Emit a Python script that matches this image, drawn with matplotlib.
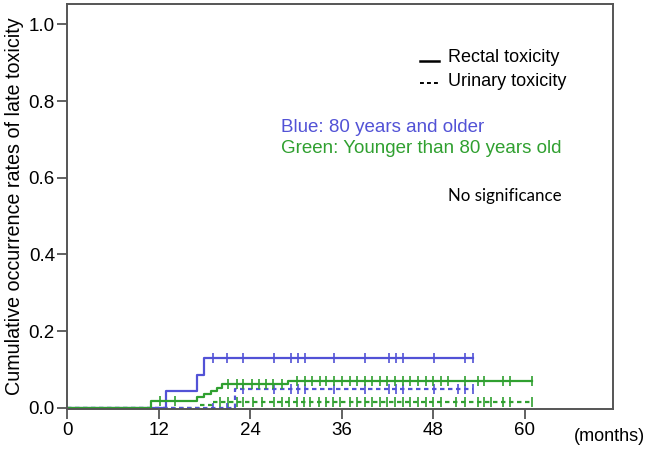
import matplotlib.pyplot as plt
from matplotlib.lines import Line2D

# Kaplan-Meier style cumulative incidence
blue_rectal_time = [0, 13.0, 17.0, 17.9, 53.2]
blue_rectal_rate = [0, 0.043, 0.087, 0.130, 0.130]
blue_rectal_censor = [19.1, 20.9, 23.0, 27.1, 29.3, 30.2, 31.2, 35.0, 39.1,
                      42.2, 43.1, 44.1, 48.1, 52.2, 53.2]

blue_urinary_time = [0, 22.0, 53.2]
blue_urinary_rate = [0, 0.048, 0.048]
blue_urinary_censor = [19.1, 20.9, 23.0, 27.1, 29.3, 30.2, 31.2, 35.0, 39.1,
                       42.2, 43.1, 44.1, 48.1, 51.3, 52.2, 53.2]

green_rectal_time = [0, 11.0, 17.0, 17.9, 18.9, 19.6, 20.3, 29.0, 61.0]
green_rectal_rate = [0, 0.018, 0.028, 0.036, 0.045, 0.052, 0.061, 0.071, 0.071]
green_rectal_censor = [12.2, 14.1, 21.1, 22.2, 23.0, 24.2, 25.1, 26.1, 27.0,
                       28.1, 30.1, 31.2, 32.1, 33.1, 34.0, 35.0, 36.0, 37.1,
                       38.0, 39.0, 40.0, 41.0, 42.0, 43.0, 44.0, 45.0, 46.0,
                       47.0, 48.0, 49.0, 50.0, 52.2, 53.9, 54.7, 57.1, 58.1, 61.0]

green_urinary_time = [0, 17.3, 19.0, 61.0]
green_urinary_rate = [0, 0.008, 0.016, 0.016]
green_urinary_censor = [20.0, 21.1, 22.2, 23.0, 24.4, 25.5, 27.1, 28.1, 29.1,
                        30.1, 31.0, 31.9, 33.0, 33.9, 34.9, 35.8, 37.1, 38.0,
                        39.0, 40.0, 41.0, 42.0, 43.0, 44.0, 45.0, 46.0, 47.0,
                        48.0, 49.0, 51.0, 52.2, 53.9, 54.7, 55.6, 57.1, 58.1, 61.0]

x_ticks = [0, 12, 24, 36, 48, 60]
y_ticks = [0.0, 0.2, 0.4, 0.6, 0.8, 1.0]

BLUE = '#5252d6'
GREEN = '#30a030'
DOT = (0, (2.0, 1.6))

plt.rcParams['font.family'] = ['Liberation Sans', 'DejaVu Sans']

fig = plt.figure(figsize=(6.48, 4.57), dpi=100)
ax = fig.add_axes([0.104, 0.105, 0.842, 0.886])


def step_value(times, rates, t):
    val = rates[0]
    for tt, rr in zip(times, rates):
        if tt <= t:
            val = rr
    return val


def km(times, rates, censor, color, ls):
    ax.step(times, rates, where='post', color=color, lw=1.6, linestyle=ls)
    cy = [step_value(times, rates, c) for c in censor]
    ax.plot(censor, cy, linestyle='none', marker='|', markersize=7.5,
            markeredgewidth=1.2, color=color)


km(green_urinary_time, green_urinary_rate, green_urinary_censor, GREEN, DOT)
km(blue_urinary_time, blue_urinary_rate, blue_urinary_censor, BLUE, DOT)
km(blue_rectal_time, blue_rectal_rate, blue_rectal_censor, BLUE, '-')
km(green_rectal_time, green_rectal_rate, green_rectal_censor, GREEN, '-')

ax.set_xlim(0, 71.6)
ax.set_ylim(-0.003, 1.053)
ax.set_xticks(x_ticks)
ax.set_yticks(y_ticks)
ax.set_yticklabels([f'{v:.1f}' for v in y_ticks])
ax.tick_params(labelsize=13.5, length=7, width=1.3, color='#555555', pad=2)
for s in ax.spines.values():
    s.set_color('#555555')
    s.set_linewidth(1.4)

ax.set_ylabel('Cumulative occurrence rates of late toxicity', fontsize=14.2,
              labelpad=3)
fig.text(0.996, 0.045, '(months)', ha='right', va='center', fontsize=13)

# legend for line styles
ax.add_line(Line2D([0.648, 0.678], [0.866, 0.866], transform=fig.transFigure,
                   color='black', lw=1.8))
ax.add_line(Line2D([0.648, 0.678], [0.819, 0.819], transform=fig.transFigure,
                   color='black', lw=1.4, linestyle=DOT))
fig.text(0.692, 0.874, 'Rectal toxicity', fontsize=13, va='center')
fig.text(0.692, 0.821, 'Urinary toxicity', fontsize=13, va='center')

fig.text(0.433, 0.722, 'Blue: 80 years and older', color=BLUE, fontsize=13.5,
         va='center')
fig.text(0.433, 0.676, 'Green: Younger than 80 years old', color=GREEN,
         fontsize=13.5, va='center')
fig.text(0.692, 0.571, 'No significance', fontsize=12.2, va='center',
         family=['Lato', 'DejaVu Sans'])

fig.savefig('out.png', dpi=100)
